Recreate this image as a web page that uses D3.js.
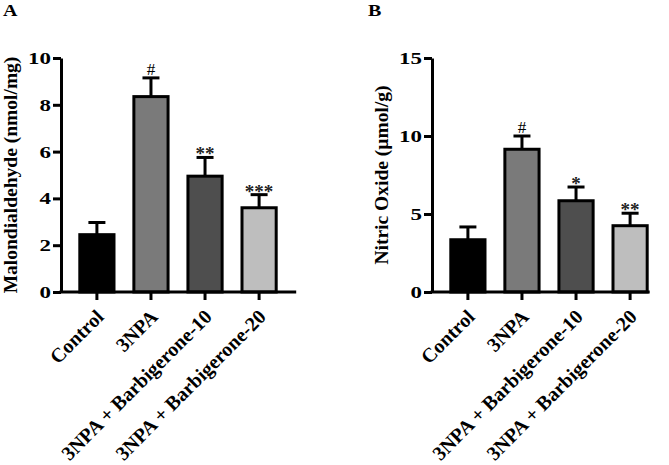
<!DOCTYPE html>
<html>
<head>
<meta charset="utf-8">
<script src="https://cdn.jsdelivr.net/npm/d3@7"></script>
<style>
  body { margin: 0; background: #fff; }
  svg { display: block; }
  text { font-family: "Liberation Serif", "Times New Roman", serif; }
</style>
</head>
<body>
<svg id="chart" width="669" height="465"></svg>
<script>
// groups shared by both panels
const groups = ["Control", "3NPA", "3NPA + Barbigerone-10", "3NPA + Barbigerone-20"];
const fills = ["#000000", "#7a7a7a", "#4e4e4e", "#bebebe"];

// panel A: malondialdehyde
const mdaMean = [2.45, 8.35, 4.95, 3.6];
const mdaErr = [0.52, 0.8, 0.8, 0.56];
const mdaMarks = ["", "#", "**", "***"];
const mdaTicks = [0, 2, 4, 6, 8, 10];

// panel B: nitric oxide
const noMean = [3.35, 9.15, 5.85, 4.25];
const noErr = [0.82, 0.85, 0.88, 0.8];
const noMarks = ["", "#", "*", "**"];
const noTicks = [0, 5, 10, 15];

const svg = d3.select("#chart");

function panel(opts) {
    let x = d3.scaleBand()
        .domain(groups)
        .range([opts.left, opts.left + 234])
        .paddingInner(0.312)
        .paddingOuter(0.32);

    let y = d3.scaleLinear()
        .domain([0, opts.max])
        .range([292, 58]);

    let g = svg.append("g");

    // bars
    g.selectAll("rect.bar")
        .data(opts.mean)
        .enter().append("rect")
        .attr("class", "bar")
        .attr("x", (d, i) => x(groups[i]) + 1.5)
        .attr("width", x.bandwidth() - 3)
        .attr("y", d => y(d))
        .attr("height", d => y(0) - y(d))
        .attr("fill", (d, i) => fills[i])
        .attr("stroke", "#000")
        .attr("stroke-width", 3);

    // error bars (upper only)
    opts.mean.forEach((m, i) => {
        let cx = x(groups[i]) + x.bandwidth() / 2;
        let top = y(m + opts.err[i]);
        g.append("line")
            .attr("x1", cx).attr("x2", cx)
            .attr("y1", y(m)).attr("y2", top)
            .attr("stroke", "#000").attr("stroke-width", 3);
        g.append("line")
            .attr("x1", cx - 8.5).attr("x2", cx + 8.5)
            .attr("y1", top).attr("y2", top)
            .attr("stroke", "#000").attr("stroke-width", 3);

        let mark = opts.marks[i];
        if (mark === "#") {
            g.append("text")
                .attr("x", cx).attr("y", top - 3)
                .attr("text-anchor", "middle")
                .attr("font-size", 17)
                .text(mark);
        } else if (mark) {
            g.append("text")
                .attr("x", cx).attr("y", top + 3)
                .attr("text-anchor", "middle")
                .attr("font-size", 19)
                .attr("font-weight", "bold")
                .attr("fill", "#222")
                .text(mark);
        }
    });

    // y axis
    let yAxis = g.append("g")
        .attr("transform", `translate(${opts.left},0)`)
        .call(d3.axisLeft(y).tickValues(opts.ticks).tickSize(8).tickPadding(2).tickSizeOuter(0));
    yAxis.select(".domain").attr("stroke-width", 3);
    yAxis.selectAll(".tick line").attr("stroke-width", 3);
    yAxis.selectAll(".tick text")
        .attr("font-family", "Liberation Serif, serif")
        .attr("font-size", 17)
        .attr("font-weight", "bold")
        .attr("fill", "#000")
        .attr("x", -10 / 1.35)
        .attr("transform", "scale(1.35,1)");

    // x axis
    let xEnd = x(groups[3]) + x.bandwidth() + opts.tail;
    g.append("line")
        .attr("x1", opts.left - 1.5).attr("x2", xEnd)
        .attr("y1", y(0)).attr("y2", y(0))
        .attr("stroke", "#000").attr("stroke-width", 3);
    let xt = g.selectAll("g.xt")
        .data(groups)
        .enter().append("g")
        .attr("class", "xt")
        .attr("transform", d => `translate(${x(d) + x.bandwidth() / 2},${y(0)})`);
    xt.append("line")
        .attr("y1", 0).attr("y2", 8)
        .attr("stroke", "#000").attr("stroke-width", 3);
    xt.append("text")
        .attr("transform", "translate(8,26) rotate(-45)")
        .attr("text-anchor", "end")
        .attr("font-size", 20)
        .attr("font-weight", "bold")
        .text(d => d);

    // y title
    g.append("text")
        .attr("transform", `translate(${opts.titleX},${(y(0) + y(opts.max)) / 2}) rotate(-90)`)
        .attr("text-anchor", "middle")
        .attr("font-size", 19.5)
        .attr("font-weight", "bold")
        .text(opts.title);

    // panel letter
    g.append("text")
        .attr("x", opts.letterX / 1.25).attr("y", 16.5)
        .attr("transform", "scale(1.25,1)")
        .attr("font-size", 16)
        .attr("font-weight", "bold")
        .text(opts.letter);
}

panel({
    left: 61, max: 10, mean: mdaMean, err: mdaErr, marks: mdaMarks, ticks: mdaTicks,
    tail: 18.5, titleX: 17, title: "Malondialdehyde (nmol/mg)", letter: "A", letterX: 3
});

panel({
    left: 432, max: 15, mean: noMean, err: noErr, marks: noMarks, ticks: noTicks,
    tail: 1, titleX: 388, title: "Nitric Oxide (µmol/g)", letter: "B", letterX: 368
});
</script>
</body>
</html>
